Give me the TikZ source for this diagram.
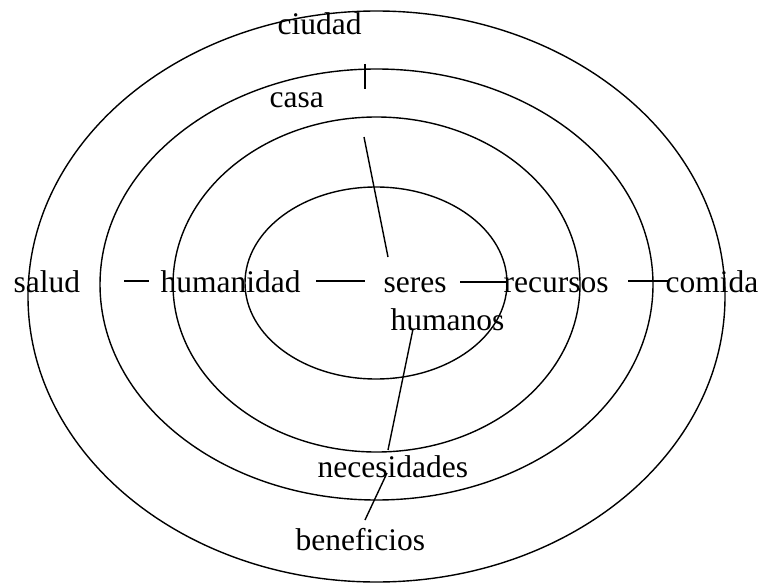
\documentclass[tikz,border=0pt]{standalone}
\usepackage{fontspec}
\setmainfont{Liberation Serif}
\begin{document}
\begin{tikzpicture}[x=1pt,y=-1pt,line width=1.4pt,
  lbl/.style={anchor=base west,inner sep=0pt,font=\fontsize{31.5}{36}\selectfont},
  ring/.style={draw,line width=1.4pt}]
\useasboundingbox (0,0) rectangle (762,583);
% rings
\path[ring] (376.5,296.5) ellipse [x radius=348.5pt, y radius=285.5pt];
\path[ring] (376.5,284.5) ellipse [x radius=276.5pt, y radius=215.5pt];
\path[ring] (376.5,284.5) ellipse [x radius=203.5pt, y radius=167.5pt];
\path[ring] (376,283) ellipse [x radius=131pt, y radius=96pt];
% labels
\node[lbl] (ciudad) at (277,35) {ciudad};
\node[lbl] (casa) at (269,108) {casa};
\node[lbl] (salud) at (13,292) {salud};
\node[lbl] (humanidad) at (160,292) {humanidad};
\node[lbl] (seres) at (383,292) {seres};
\node[lbl] (recursos) at (503,292) {recursos};
\node[lbl] (comida) at (665,292) {comida};
\node[lbl] (humanos) at (390,330) {humanos};
\node[lbl] (necesidades) at (317,477) {necesidades};
\node[lbl] (beneficios) at (295,550) {beneficios};
% connector end points
\coordinate (t1) at (365,64);
\coordinate (t2) at (365,89);
\coordinate (c1) at (364,137);
\coordinate (c2) at (388,257);
\coordinate (h1) at (124,281);
\coordinate (h2) at (149,281);
\coordinate (s1) at (316,281);
\coordinate (s2) at (365,281);
\coordinate (r1) at (460,282);
\coordinate (r2) at (508,282);
\coordinate (m1) at (628,281);
\coordinate (m2) at (669,281);
\coordinate (n1) at (413,329);
\coordinate (n2) at (388,450);
\coordinate (b1) at (387,473);
\coordinate (b2) at (365,520);
% connectors
\draw (t1) -- (t2);
\draw (c1) -- (c2);
\draw (h1) -- (h2);
\draw (s1) -- (s2);
\draw (r1) -- (r2);
\draw (m1) -- (m2);
\draw (n1) -- (n2);
\draw (b1) -- (b2);
\end{tikzpicture}
\end{document}
